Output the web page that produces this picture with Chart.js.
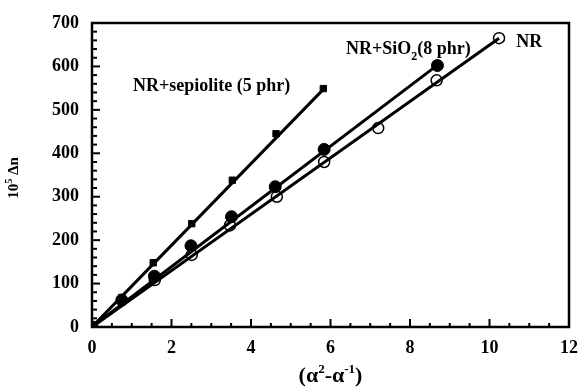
<!DOCTYPE html>
<html lang="en">
  <head>
    <meta charset="UTF-8" />
    <title>Birrefringencia</title>
    <script src="https://cdn.jsdelivr.net/npm/chart.js"></script>
    <style>
      body { margin: 0; background: #fff; }
      #wrap { width: 579px; height: 387px; }
    </style>
  </head>
  <body>
    <div id="wrap"><canvas id="grafica"></canvas></div>
    <script>
      // ticks
      const xTicks = [0, 2, 4, 6, 8, 10, 12];
      const yTicks = [0, 100, 200, 300, 400, 500, 600, 700];

      // NR (open circles)
      const nrX = [0, 1.58, 2.51, 3.47, 4.65, 5.84, 7.2, 8.67, 10.24];
      const nrY = [0, 108, 166, 234, 300, 380, 458, 568, 665];
      // NR+SiO2 8 phr (filled circles)
      const sioX = [0, 0.75, 1.57, 2.49, 3.51, 4.61, 5.84, 8.69];
      const sioY = [0, 62, 117, 187, 254, 323, 409, 602];
      // NR+sepiolite 5 phr (filled squares)
      const sepX = [0, 0.75, 1.54, 2.51, 3.53, 4.63, 5.82];
      const sepY = [0, 68, 148, 238, 338, 445, 549];

      // fitted straight lines (start, end)
      const nrFitX = [0, 10.24];
      const nrFitY = [0, 665];
      const sioFitX = [0, 8.69];
      const sioFitY = [0, 603];
      const sepFitX = [0, 5.85];
      const sepFitY = [0, 550];

      const FONT = "'Liberation Serif', 'Times New Roman', serif";

      function pts(xs, ys) {
        return xs.map(function (x, i) { return { x: x, y: ys[i] }; });
      }

      function fitLine(xs, ys) {
        return {
          data: pts(xs, ys),
          showLine: true,
          borderColor: "#000",
          borderWidth: 3,
          pointRadius: 0,
          order: 0,
        };
      }

      // ticks pointing inwards + frame
      const frame = {
        id: "frame",
        afterDatasetsDraw: function (chart) {
          const ctx = chart.ctx;
          const a = chart.chartArea;
          const sx = chart.scales.x;
          const sy = chart.scales.y;
          ctx.save();
          ctx.strokeStyle = "#000";
          ctx.lineWidth = 2;
          for (let v = 0; v <= 12.001; v += 0.5) {
            const px = sx.getPixelForValue(v);
            const len = Math.abs(v % 2) < 0.001 ? 8 : 4;
            ctx.beginPath();
            ctx.moveTo(px, a.bottom);
            ctx.lineTo(px, a.bottom - len);
            ctx.stroke();
          }
          for (let v = 0; v <= 700.01; v += 20) {
            const py = sy.getPixelForValue(v);
            const len = v % 100 === 0 ? 8 : 5;
            ctx.beginPath();
            ctx.moveTo(a.left, py);
            ctx.lineTo(a.left + len, py);
            ctx.stroke();
          }
          ctx.lineWidth = 2.5;
          ctx.strokeRect(a.left, a.top, a.right - a.left, a.bottom - a.top);
          ctx.restore();
        },
      };

      // axis titles and curve labels
      const labels = {
        id: "labels",
        afterDraw: function (chart) {
          const ctx = chart.ctx;
          const a = chart.chartArea;
          const sx = chart.scales.x;
          const sy = chart.scales.y;
          ctx.save();
          ctx.fillStyle = "#000";
          ctx.textBaseline = "alphabetic";
          ctx.textAlign = "left";

          function runs(parts, x, y) {
            let cx = x;
            parts.forEach(function (p) {
              ctx.font = "bold " + p.size + "px " + FONT;
              ctx.fillText(p.t, cx, y + (p.dy || 0));
              cx += ctx.measureText(p.t).width;
            });
            return cx - x;
          }
          function width(parts) {
            let w = 0;
            parts.forEach(function (p) {
              ctx.font = "bold " + p.size + "px " + FONT;
              w += ctx.measureText(p.t).width;
            });
            return w;
          }

          // x title
          const xt = [
            { t: "(α", size: 22 },
            { t: "2", size: 13, dy: -9 },
            { t: "-α", size: 22 },
            { t: "-1", size: 13, dy: -9 },
            { t: ")", size: 22 },
          ];
          const cxm = (a.left + a.right) / 2;
          runs(xt, cxm - width(xt) / 2, 382);

          // y title
          const yt = [
            { t: "10", size: 15 },
            { t: "5", size: 10, dy: -6 },
            { t: " Δn", size: 15 },
          ];
          ctx.translate(18, (a.top + a.bottom) / 2 + 3);
          ctx.rotate(-Math.PI / 2);
          runs(yt, -width(yt) / 2, 0);
          ctx.setTransform(1, 0, 0, 1, 0, 0);

          // curve labels
          runs([{ t: "NR+sepiolite (5 phr)", size: 18 }],
            sx.getPixelForValue(1.03), sy.getPixelForValue(543));
          runs([
            { t: "NR+SiO", size: 18 },
            { t: "2", size: 12, dy: 6 },
            { t: "(8 phr)", size: 18 },
          ], sx.getPixelForValue(6.39), sy.getPixelForValue(628));
          runs([{ t: "NR", size: 18 }],
            sx.getPixelForValue(10.67), sy.getPixelForValue(644));
          ctx.restore();
        },
      };

      const tickFont = { family: FONT, size: 18, weight: "bold" };

      function noPad(s) {
        s.paddingLeft = 0;
        s.paddingRight = 0;
        s.paddingTop = 0;
        s.paddingBottom = 0;
      }

      new Chart(document.getElementById("grafica").getContext("2d"), {
        type: "scatter",
        data: {
          datasets: [
            fitLine(nrFitX, nrFitY),
            fitLine(sioFitX, sioFitY),
            fitLine(sepFitX, sepFitY),
            {
              data: pts(nrX, nrY),
              pointStyle: "circle",
              pointRadius: 5.5,
              borderColor: "#000",
              borderWidth: 1.5,
              backgroundColor: "rgba(0,0,0,0)",
              order: 1,
            },
            {
              data: pts(sioX, sioY),
              pointStyle: "circle",
              pointRadius: 6,
              borderColor: "#000",
              borderWidth: 1,
              backgroundColor: "#000",
              order: 1,
            },
            {
              data: pts(sepX, sepY),
              pointStyle: "rect",
              pointRadius: 4.5,
              borderColor: "#000",
              borderWidth: 1,
              backgroundColor: "#000",
              order: 1,
            },
          ],
        },
        options: {
          responsive: true,
          maintainAspectRatio: false,
          animation: false,
          layout: { padding: { left: 0, right: 10, top: 23, bottom: 0 } },
          plugins: {
            legend: { display: false },
            tooltip: { enabled: false },
          },
          scales: {
            x: {
              type: "linear",
              min: 0,
              max: 12,
              grid: { display: false, drawTicks: false },
              border: { display: false },
              afterBuildTicks: function (s) {
                s.ticks = xTicks.map(function (v) { return { value: v }; });
              },
              afterFit: function (s) { s.height = 60; noPad(s); },
              ticks: { color: "#000", font: tickFont, padding: 11, maxRotation: 0 },
            },
            y: {
              type: "linear",
              min: 0,
              max: 700,
              grid: { display: false, drawTicks: false },
              border: { display: false },
              afterBuildTicks: function (s) {
                s.ticks = yTicks.map(function (v) { return { value: v }; });
              },
              afterFit: function (s) { s.width = 92; noPad(s); },
              ticks: { color: "#000", font: tickFont, padding: 13 },
            },
          },
        },
        plugins: [frame, labels],
      });
    </script>
  </body>
</html>
